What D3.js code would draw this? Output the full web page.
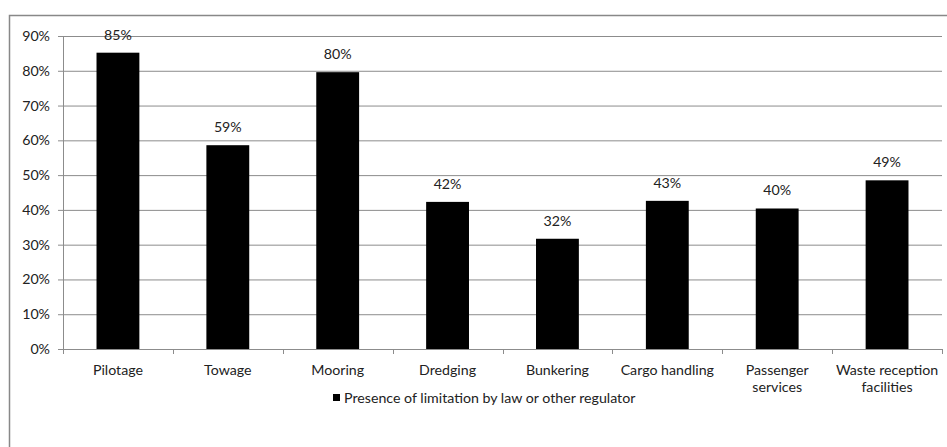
<!DOCTYPE html>
<html>
<head>
<meta charset="utf-8">
<script src="https://cdn.jsdelivr.net/npm/d3@7"></script>
<style>
  body { margin: 0; background: #fff; }
  svg { display: block; font-family: Lato, "Open Sans", sans-serif; }
</style>
</head>
<body>
<svg id="chart" width="947" height="447"></svg>
<script>
const categories = ['Pilotage', 'Towage', 'Mooring', 'Dredging', 'Bunkering',
  'Cargo handling', 'Passenger services', 'Waste reception facilities']
const values = [85.2, 58.6, 79.6, 42.3, 31.7, 42.6, 40.4, 48.5]
const valueLabels = ['85%', '59%', '80%', '42%', '32%', '43%', '40%', '49%']
const yTicks = [0, 10, 20, 30, 40, 50, 60, 70, 80, 90]
const seriesName = 'Presence of limitation by law or other regulator'

// category labels that wrap on two lines
const wrapped = {
  'Passenger services': ['Passenger', 'services'],
  'Waste reception facilities': ['Waste reception', 'facilities']
}

const fontSize = 14.2
const svg = d3.select('#chart')

// outer chart border (cut off at right and bottom like the picture)
svg.append('rect')
  .attr('x', 9.5)
  .attr('y', 15.5)
  .attr('width', 960)
  .attr('height', 460)
  .attr('fill', 'none')
  .attr('stroke', '#888')
  .attr('stroke-width', 1.5)

const plotLeft = 63, plotRight = 942, plotTop = 36, plotBottom = 349

const x = d3.scaleBand()
  .domain(categories)
  .range([plotLeft, plotRight])

const y = d3.scaleLinear()
  .domain([0, 90])
  .range([plotBottom, plotTop])

// horizontal grid
svg.append('g')
  .attr('transform', `translate(${plotLeft},0)`)
  .call(d3.axisLeft(y).tickValues(yTicks).tickSize(-(plotRight - plotLeft)).tickFormat(''))
  .call(g => g.select('.domain').remove())
  .call(g => g.selectAll('line').attr('stroke', '#8c8c8c'))

// y axis
const yAxis = svg.append('g')
  .attr('transform', `translate(${plotLeft},0)`)
  .call(d3.axisLeft(y).tickValues(yTicks).tickSize(5).tickPadding(8).tickFormat(d => d + '%'))
yAxis.select('.domain').attr('stroke', '#8c8c8c').attr('d', `M0.5,${plotTop}V${plotBottom}`)
yAxis.selectAll('line').attr('stroke', '#8c8c8c')
yAxis.selectAll('text')
  .attr('font-family', 'Lato, sans-serif')
  .attr('font-size', fontSize)
  .attr('fill', '#222')

// bars
const barW = x.bandwidth() * 0.39
svg.append('g')
  .selectAll('rect')
  .data(categories)
  .join('rect')
  .attr('x', (d) => x(d) + (x.bandwidth() - barW) / 2)
  .attr('y', (d, i) => y(values[i]))
  .attr('width', barW)
  .attr('height', (d, i) => y(0) - y(values[i]))
  .attr('fill', '#000')

// x axis with ticks at category boundaries
svg.append('line')
  .attr('x1', plotLeft).attr('x2', plotRight)
  .attr('y1', plotBottom + 0.5).attr('y2', plotBottom + 0.5)
  .attr('stroke', '#8c8c8c')
svg.append('g')
  .selectAll('line')
  .data(categories.concat(['end']))
  .join('line')
  .attr('x1', (d, i) => Math.round(plotLeft + i * x.step()) + 0.5)
  .attr('x2', (d, i) => Math.round(plotLeft + i * x.step()) + 0.5)
  .attr('y1', plotBottom)
  .attr('y2', plotBottom + 5)
  .attr('stroke', '#8c8c8c')

// category labels
svg.append('g')
  .attr('font-size', fontSize)
  .attr('fill', '#222')
  .attr('text-anchor', 'middle')
  .selectAll('text')
  .data(categories)
  .join('text')
  .attr('x', d => x(d) + x.bandwidth() / 2)
  .attr('y', plotBottom + 26)
  .each(function (d) {
    const lines = wrapped[d] || [d]
    d3.select(this).selectAll('tspan')
      .data(lines)
      .join('tspan')
      .attr('x', x(d) + x.bandwidth() / 2)
      .attr('dy', (l, k) => k === 0 ? 0 : 17)
      .text(l => l)
  })

// value labels
svg.append('g')
  .attr('font-size', fontSize)
  .attr('fill', '#222')
  .attr('text-anchor', 'middle')
  .selectAll('text')
  .data(categories)
  .join('text')
  .attr('x', d => x(d) + x.bandwidth() / 2)
  .attr('y', (d, i) => y(values[i]) - 13)
  .text((d, i) => valueLabels[i])

// legend
const legend = svg.append('g').attr('transform', 'translate(333,398)')
legend.append('rect')
  .attr('x', 0).attr('y', -4)
  .attr('width', 7).attr('height', 7)
  .attr('fill', '#000')
legend.append('text')
  .attr('x', 11)
  .attr('y', 5)
  .attr('font-size', fontSize)
  .attr('fill', '#222')
  .text(seriesName)
</script>
</body>
</html>
